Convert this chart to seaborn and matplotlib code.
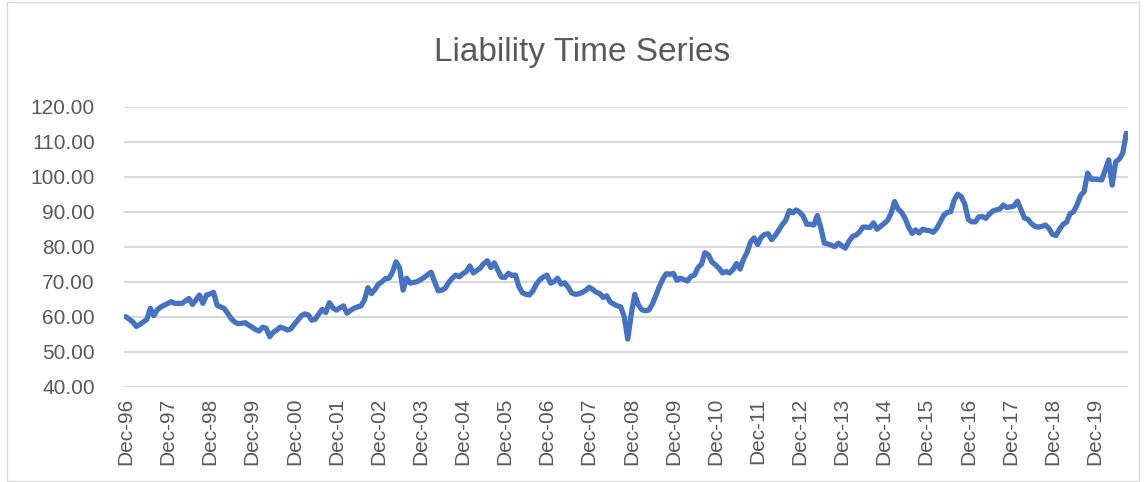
#Liability time series chart
import pandas as pd
import matplotlib
matplotlib.use("Agg")
import matplotlib.pyplot as plt
import seaborn as sns

#Data (monthly, Dec-96 onwards)
liability = [
    60.0, 59.3, 58.5, 57.2, 57.8, 58.5, 59.2, 62.4, 60.3, 62.0, 62.8, 63.3,
    63.8, 64.3, 63.8, 63.8, 63.8, 64.5, 65.2, 63.5, 64.8, 66.2, 63.8, 66.2,
    66.5, 67.0, 63.3, 62.8, 62.4, 61.0, 59.5, 58.5, 58.0, 58.1, 58.3, 57.6,
    57.0, 56.3, 55.9, 57.0, 56.7, 54.3, 55.5, 56.2, 57.0, 56.7, 56.2, 56.5,
    57.8, 59.0, 60.3, 60.8, 60.5, 59.0, 59.3, 60.8, 62.1, 61.2, 64.0, 62.5,
    61.9, 62.5, 63.1, 61.0, 61.8, 62.4, 62.8, 63.1, 64.8, 68.3, 66.6, 67.8,
    69.3, 70.0, 70.9, 71.0, 72.8, 75.7, 74.0, 67.6, 71.0, 69.6, 69.8, 70.0,
    70.6, 71.2, 72.0, 72.7, 70.0, 67.4, 67.6, 68.1, 69.8, 71.0, 71.9, 71.4,
    72.3, 72.9, 74.5, 72.5, 73.2, 73.9, 75.2, 76.0, 74.0, 75.4, 73.3, 71.3,
    71.2, 72.4, 71.8, 71.9, 68.6, 66.8, 66.4, 66.2, 67.4, 69.4, 70.6, 71.4,
    71.9, 69.6, 70.0, 71.0, 69.3, 69.7, 68.5, 66.8, 66.4, 66.5, 66.9, 67.5,
    68.4, 67.8, 67.0, 66.6, 65.5, 66.0, 64.2, 63.6, 63.1, 62.8, 60.0, 53.6,
    60.8, 66.4, 63.4, 62.0, 61.7, 61.9, 63.6, 66.0, 68.6, 70.8, 72.3, 72.1,
    72.4, 70.4, 71.0, 70.6, 70.2, 71.5, 71.9, 74.0, 75.0, 78.3, 77.6, 75.6,
    74.8, 73.8, 72.5, 72.9, 72.5, 73.5, 75.2, 73.6, 76.5, 78.4, 81.4, 82.5,
    80.6, 82.7, 83.5, 83.7, 82.0, 83.2, 84.7, 86.3, 87.5, 90.3, 89.7, 90.5,
    89.8, 88.7, 86.4, 86.4, 86.2, 88.9, 85.4, 81.0, 80.8, 80.4, 80.0, 81.0,
    80.2, 79.6, 81.5, 82.9, 83.3, 84.2, 85.6, 85.6, 85.5, 86.8, 85.0, 85.8,
    86.6, 87.5, 89.5, 92.9, 90.8, 89.8, 88.1, 85.6, 83.8, 84.8, 83.9, 85.0,
    84.7, 84.6, 84.1, 85.2, 87.0, 89.0, 89.8, 90.0, 93.3, 95.0, 94.3, 92.2,
    87.8, 87.1, 87.1, 88.5, 88.6, 88.1, 89.3, 90.2, 90.5, 90.8, 91.9, 91.2,
    91.4, 91.6, 93.0, 90.6, 88.2, 87.8, 86.6, 85.8, 85.6, 85.8, 86.2, 85.2,
    83.5, 83.2, 85.0, 86.4, 87.0, 89.4, 90.0, 92.0, 94.6, 95.8, 101.0, 99.3,
    99.3, 99.2, 99.1, 101.9, 104.8, 97.6, 104.3, 105.0, 106.7, 112.4,
]
months = pd.date_range("1996-12-01", periods=len(liability), freq="MS")
tick_labels = [m.strftime("%b-%y") for m in months]
y_ticks = [40, 50, 60, 70, 80, 90, 100, 110, 120]

df = pd.DataFrame({"idx": range(len(liability)), "Liability": liability})

sns.set_style("white")
plt.rcParams["font.family"] = ["Liberation Sans", "DejaVu Sans"]
grey = "#595959"

fig = plt.figure(figsize=(11.45, 4.82), dpi=100)
ax = fig.add_axes([124 / 1145, 1 - 386.7 / 482, (1128 - 124) / 1145, (386.7 - 106.7) / 482])

sns.lineplot(data=df, x="idx", y="Liability", color="#4472C4", linewidth=3.8, ax=ax)

ax.set_xlim(-0.5, len(liability) - 0.5)
ax.set_ylim(40, 120)
ax.set_yticks(y_ticks)
ax.set_yticklabels([f"{v:.2f}" for v in y_ticks])
tick_pos = list(range(0, len(liability), 12))
ax.set_xticks(tick_pos)
ax.set_xticklabels([tick_labels[i] for i in tick_pos], rotation=90)
ax.tick_params(axis="y", length=0, pad=21, labelsize=15, labelcolor=grey)
ax.tick_params(axis="x", length=0, pad=8, labelsize=15, labelcolor=grey)
ax.yaxis.grid(True, color="#d9d9d9", linewidth=1.5)
ax.set_axisbelow(True)
for s in ax.spines.values():
    s.set_visible(False)
ax.set_xlabel("")
ax.set_ylabel("")

fig.text(582 / 1145, 1 - 52 / 482, "Liability Time Series", ha="center", va="center",
         fontsize=24, color=grey)

# chart border
fig.patches.append(plt.Rectangle((7 / 1145, 0.002), 1132 / 1145, 0.994, transform=fig.transFigure,
                                 fill=False, edgecolor="#d9d9d9", linewidth=1))

fig.savefig("out.png", dpi=100)
